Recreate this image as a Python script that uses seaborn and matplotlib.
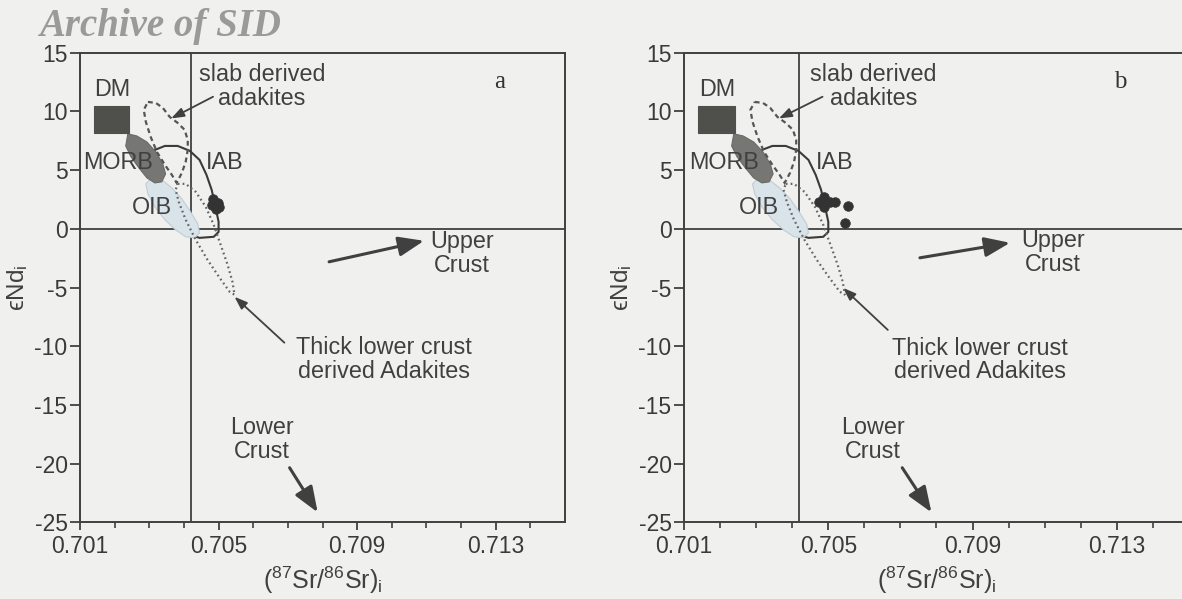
import matplotlib
matplotlib.use("Agg")
import matplotlib.pyplot as plt
import seaborn as sns
import pandas as pd

# ---- values ----
x_major = [0.701, 0.705, 0.709, 0.713]
x_minor = [0.701, 0.702, 0.703, 0.704, 0.705, 0.706, 0.707,
           0.708, 0.709, 0.710, 0.711, 0.712, 0.713, 0.714]
y_ticks = [-25, -20, -15, -10, -5, 0, 5, 10, 15]
sr_line = 0.7042
nd_line = 0

# depleted mantle box
dm_sr = [0.7014, 0.7024, 0.7024, 0.7014]
dm_nd = [8.2, 8.2, 10.5, 10.5]

# MORB field
morb_sr = [0.70238, 0.70264, 0.70293, 0.70319, 0.70339, 0.70347, 0.70336,
           0.70316, 0.70293, 0.70270, 0.70247, 0.70232]
morb_nd = [8.09, 7.91, 7.40, 6.55, 5.53, 4.68, 4.00,
           3.91, 4.34, 5.19, 6.13, 7.06]

# OIB field
oib_sr = [0.70307, 0.70336, 0.70365, 0.70394, 0.70419, 0.70440, 0.70445,
          0.70431, 0.70405, 0.70376, 0.70345, 0.70316, 0.70296, 0.70290]
oib_nd = [4.34, 4.17, 3.49, 2.55, 1.45, 0.43, -0.34,
          -0.77, -0.68, -0.09, 0.77, 1.87, 2.98, 3.83]

# IAB field
iab_sr = [0.70316, 0.70345, 0.70382, 0.70417, 0.70445, 0.70465, 0.70480,
          0.70491, 0.70500, 0.70500, 0.70486, 0.70445, 0.70417, 0.70359,
          0.70316, 0.70301]
iab_nd = [6.72, 7.06, 7.06, 6.64, 5.87, 4.60, 3.32,
          1.87, 0.60, -0.26, -0.68, -0.77, -0.51, 1.19,
          3.32, 5.45]

# slab derived adakites field
slab_sr = [0.70296, 0.70319, 0.70339, 0.70359, 0.70382, 0.70402, 0.70411,
           0.70411, 0.70405, 0.70394, 0.70379, 0.70365, 0.70345, 0.70322,
           0.70304, 0.70290, 0.70284]
slab_nd = [10.81, 10.72, 10.30, 9.53, 9.02, 8.43, 7.57,
           6.72, 5.70, 4.77, 3.91, 4.60, 5.45, 6.55,
           7.83, 9.11, 10.13]

# thick lower crust derived adakites field
tlc_sr = [0.70382, 0.70405, 0.70434, 0.70463, 0.70486, 0.70506, 0.70526,
          0.70540, 0.70546, 0.70532, 0.70503, 0.70468, 0.70434, 0.70405,
          0.70385, 0.70376]
tlc_nd = [3.83, 3.83, 3.15, 1.87, 0.34, -1.36, -3.06,
          -4.51, -5.62, -5.36, -4.17, -2.64, -0.94, 0.77,
          2.30, 3.32]

# samples
a_sr = [0.70485, 0.70497, 0.70480, 0.70492, 0.70500, 0.70488]
a_nd = [2.5, 2.2, 2.0, 1.7, 1.9, 2.1]
b_sr = [0.70474, 0.70488, 0.70490, 0.70505, 0.70518, 0.70488, 0.70555, 0.70546]
b_nd = [2.3, 2.75, 2.3, 2.25, 2.25, 1.85, 1.96, 0.51]

bg = "#f0f0ef"
ink = "#404040"

sns.set_theme(style="ticks")
plt.rcParams["font.family"] = ["Liberation Sans", "DejaVu Sans"]
plt.rcParams["mathtext.fontset"] = "custom"
plt.rcParams["mathtext.rm"] = "Liberation Sans"
plt.rcParams["mathtext.it"] = "Liberation Sans:italic"
plt.rcParams["axes.unicode_minus"] = False

fig = plt.figure(figsize=(11.82, 5.99), dpi=100, facecolor=bg)
ax_a = fig.add_axes([0.0677, 0.128, 0.4103, 0.784])
ax_b = fig.add_axes([0.5787, 0.128, 0.4272, 0.784])


def thin_arrow(ax, start, tip):
    ax.annotate("", xy=tip, xytext=start,
                arrowprops=dict(arrowstyle="-|>,head_length=0.55,head_width=0.2",
                                mutation_scale=14, lw=1.3, color=ink,
                                shrinkA=0, shrinkB=0))


def thick_arrow(ax, start, tip):
    ax.annotate("", xy=tip, xytext=start,
                arrowprops=dict(arrowstyle="-|>,head_length=0.62,head_width=0.24",
                                mutation_scale=25, lw=2.2, color=ink,
                                shrinkA=0, shrinkB=0))


def draw_panel(ax, sr, nd, letter, upper_txt, upper_arr, thick_txt, thick_arr):
    ax.set_facecolor(bg)
    # reference lines
    ax.axvline(sr_line, color=ink, lw=1.3, zorder=1)
    ax.axhline(nd_line, color=ink, lw=1.3, zorder=1)

    # fields
    ax.fill(iab_sr, iab_nd, facecolor="none", edgecolor="#3a3a3a", lw=1.5, zorder=2)
    ax.fill(oib_sr, oib_nd, facecolor="#d9e3ea", edgecolor="#c2ccd2", lw=0.8, zorder=3)
    ax.fill(morb_sr, morb_nd, facecolor="#767673", edgecolor="#6a6a67", lw=0.8, zorder=4)
    ax.fill(dm_sr, dm_nd, facecolor="#4f4f4b", edgecolor="#4f4f4b", lw=0.8, zorder=4)
    ax.fill(slab_sr, slab_nd, facecolor="none", edgecolor="#555555", lw=1.6,
            linestyle=(0, (2.2, 1.6)), zorder=5)
    ax.fill(tlc_sr, tlc_nd, facecolor="none", edgecolor="#666666", lw=1.6,
            linestyle=(0, (0.8, 1.4)), zorder=5)

    # samples
    pts = pd.DataFrame({"sr": sr, "nd": nd})
    sns.scatterplot(data=pts, x="sr", y="nd", ax=ax, color="#333333",
                    s=48, edgecolor="#333333", linewidth=0.5, zorder=6)

    # labels
    fs = 16.8
    ax.text(0.70192, 11.83, "DM", fontsize=fs, color=ink, ha="center", va="center")
    ax.text(0.70211, 5.62, "MORB", fontsize=fs, color=ink, ha="center", va="center", zorder=7)
    ax.text(0.70307, 1.79, "OIB", fontsize=fs, color=ink, ha="center", va="center", zorder=7)
    ax.text(0.70517, 5.62, "IAB", fontsize=fs, color=ink, ha="center", va="center")
    ax.text(0.70625, 12.1, "slab derived\nadakites", fontsize=fs, color=ink,
            ha="center", va="center", linespacing=1.05)
    thin_arrow(ax, (0.70484, 11.25), (0.70363, 9.4))
    ax.text(upper_txt[0], upper_txt[1], "Upper\nCrust", fontsize=fs, color=ink,
            ha="center", va="center", linespacing=1.05)
    thick_arrow(ax, upper_arr[0], upper_arr[1])
    ax.text(thick_txt[0], thick_txt[1], "Thick lower crust\nderived Adakites",
            fontsize=fs, color=ink, ha="center", va="center", linespacing=1.05)
    thin_arrow(ax, thick_arr[0], thick_arr[1])
    ax.text(0.70624, -17.96, "Lower\nCrust", fontsize=fs, color=ink,
            ha="center", va="center", linespacing=1.05)
    thick_arrow(ax, (0.70705, -20.35), (0.70786, -24.15))
    ax.text(0.7131, 12.5, letter, fontsize=18, color="#333333",
            family="Liberation Serif", ha="center", va="center")

    # axes
    ax.set_xlim(0.701, 0.715)
    ax.set_ylim(-25, 15)
    ax.set_xticks(x_major)
    ax.set_xticklabels([f"{v:.3f}" for v in x_major])
    ax.set_xticks(x_minor, minor=True)
    ax.set_yticks(y_ticks)
    ax.tick_params(axis="both", which="major", labelsize=16.5, colors=ink,
                   direction="out", width=1.3)
    ax.tick_params(axis="x", which="major", length=6, pad=3)
    ax.tick_params(axis="x", which="minor", length=4.5, width=1.2, color=ink)
    ax.tick_params(axis="y", which="major", length=7, pad=2)
    ax.tick_params(labelcolor="#3a3a3a")
    for sp in ax.spines.values():
        sp.set_visible(True)
        sp.set_color(ink)
        sp.set_linewidth(1.4)
    ax.set_xlabel(r"($^{87}$Sr/$^{86}$Sr)$_{\rm i}$", fontsize=18, color=ink, labelpad=5)
    ax.set_ylabel(r"ϵNd$_{\rm i}$", fontsize=17.5, color=ink, labelpad=3)


draw_panel(ax_a, a_sr, a_nd, "a",
           (0.71202, -2.13), ((0.70819, -2.81), (0.71093, -1.02)),
           (0.70978, -11.15), ((0.70690, -9.70), (0.70546, -5.79)))
draw_panel(ax_b, b_sr, b_nd, "b",
           (0.71123, -2.05), ((0.70754, -2.47), (0.71004, -1.19)),
           (0.70920, -11.17), ((0.70665, -8.61), (0.70541, -5.03)))

fig.text(39 / 1182, 1 - 36 / 599, "Archive of SID", family="Liberation Serif",
         weight="bold", style="italic", fontsize=28, color="#9a9a9a",
         ha="left", va="baseline")

fig.savefig("out.png", dpi=100, facecolor=bg)
